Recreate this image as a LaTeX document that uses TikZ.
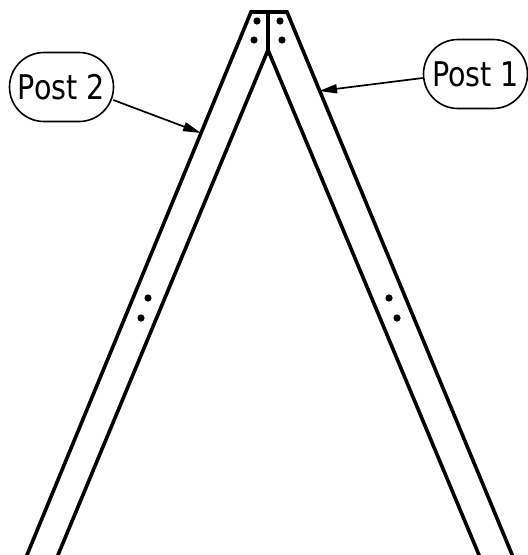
\documentclass[tikz,border=0pt]{standalone}
\usepackage{fontspec}
\setmainfont[FakeStretch=0.84]{DejaVu Sans}
\usetikzlibrary{arrows.meta,calc}
\tikzset{
  post/.style={line width=3.6pt,line join=miter,line cap=butt},
  hole/.style={fill=black,draw=none},
  callout/.style={draw,line width=1.6pt,rounded corners=34.5pt,minimum width=104pt,minimum height=69pt,inner sep=0pt,font=\fontsize{34}{38}\selectfont},
  leader/.style={line width=1.7pt,-{Triangle[length=18pt,width=9pt]},shorten >=0pt}
}
\begin{document}
\begin{tikzpicture}[x=1pt,y=-1pt]
\useasboundingbox (0,0) rectangle (528,555);
\clip (0,0) rectangle (528,555);
\coordinate (tl) at (251,12);
\coordinate (tr) at (287,12);
\coordinate (tc) at (268,12);
\coordinate (apex) at (268,50);
\coordinate (ol) at (24.9,560);
\coordinate (il) at (55.9,560);
\coordinate (or) at (514.3,560);
\coordinate (ir) at (481.1,560);
\coordinate (tipl) at (201,133);
\coordinate (tipr) at (319,91);
\draw[post] (ol) -- (tl) -- (tr) -- (or);
\draw[post] (tc) -- (apex);
\draw[post] (il) -- (apex) -- (ir);
\foreach \x/\y in {257/21,280/21,254/40,282/40,148/298,141/318,389/298,397/318}
  \fill[hole] (\x,\y) circle (3.6pt);
\node[callout] (p2) at (61.5,87) {Post 2};
\node[callout] (p1) at (475.5,74) {Post 1};
\draw[leader] ([shift={(-1pt,-13pt)}]p2.east) -- (tipl);
\draw[leader] ([yshift=-4pt]p1.west) -- (tipr);
\end{tikzpicture}
\end{document}
